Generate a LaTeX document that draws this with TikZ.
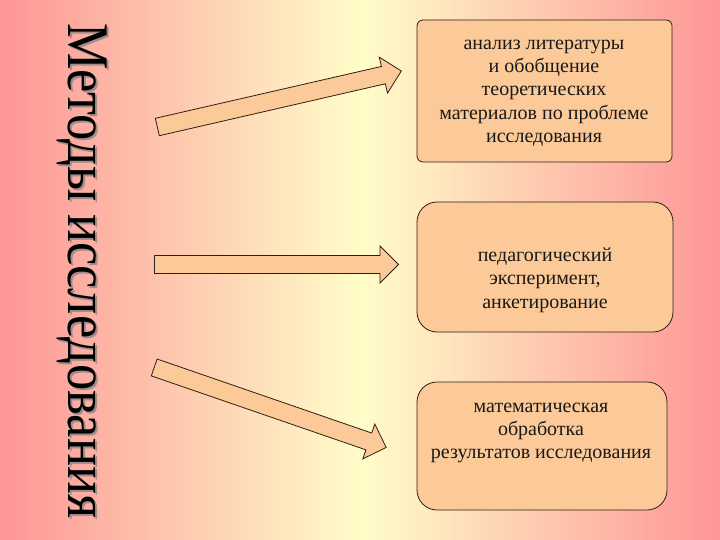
\documentclass[tikz,border=0pt]{standalone}
\usepackage{fontspec}
\setmainfont{Liberation Serif}
\usetikzlibrary{calc,shapes.arrows}
\definecolor{edgepink}{RGB}{253,150,150}
\definecolor{midyellow}{RGB}{255,253,200}
\definecolor{peach}{RGB}{252,202,152}
\definecolor{inkline}{RGB}{45,30,25}
\definecolor{shadowgrey}{RGB}{160,140,140}
\tikzset{
  methodbox/.style={draw=inkline, line width=0.8bp, fill=peach, inner sep=0pt},
  methodtext/.style={align=center, font=\fontsize{20bp}{23.3bp}\selectfont, text=black!90, inner sep=0pt},
  blockarrow/.style={single arrow, draw=inkline, line width=0.8bp, fill=peach,
    inner xsep=0pt, inner ysep=8.5bp, minimum width=36bp,
    single arrow head extend=9.5bp, single arrow tip angle=90, single arrow head indent=0pt},
  titletext/.style={rotate=-90, anchor=base west, inner sep=0pt, font=\fontsize{59bp}{59bp}\selectfont}
}

\begin{document}
\begin{tikzpicture}[x=1bp,y=-1bp]
\useasboundingbox (0,0) rectangle (720,540);
\shade[left color=edgepink, right color=edgepink, middle color=midyellow] (0,0) rectangle (720,540);

% title down the left side
\node[titletext, text=shadowgrey] (titleshadow) at (70,25) {\resizebox{495bp}{\height}{Методы исследования}};
\node[titletext] (title) at (68,23) {\resizebox{495bp}{\height}{Методы исследования}};

% boxes
\node[methodbox, rounded corners=6bp, minimum width=255bp, minimum height=142bp] (boxA) at (544.5,91) {};
\node[methodbox, rounded corners=20bp, minimum width=256bp, minimum height=130bp] (boxB) at (545,267) {};
\node[methodbox, rounded corners=20bp, minimum width=250bp, minimum height=128bp] (boxC) at (542,446) {};

\node[methodtext] (textA) at (544,93) {анализ литературы\\и обобщение\\теоретических\\материалов по проблеме\\исследования};
\node[methodtext] (textB) at (545,280) {педагогический\\эксперимент,\\анкетирование};
\node[methodtext] (textC) at (541,433) {математическая\\обработка\\результатов исследования};

% arrows
\coordinate (tailA) at (153,128);
\coordinate (tipA) at (397,72);
\coordinate (tailB) at (150,264.5);
\coordinate (tipB) at (394,264.5);
\coordinate (tailC) at (150,366);
\coordinate (tipC) at (382,446);

\foreach \k in {A,B,C}
{
\path let \p1=($(tip\k)-(tail\k)$) in
  node[blockarrow, rotate={atan2(\y1,\x1)}, minimum height={veclen(\x1,\y1)}] (arrow\k) at ($(tail\k)!0.5!(tip\k)$) {};
}

\end{tikzpicture}
\end{document}
